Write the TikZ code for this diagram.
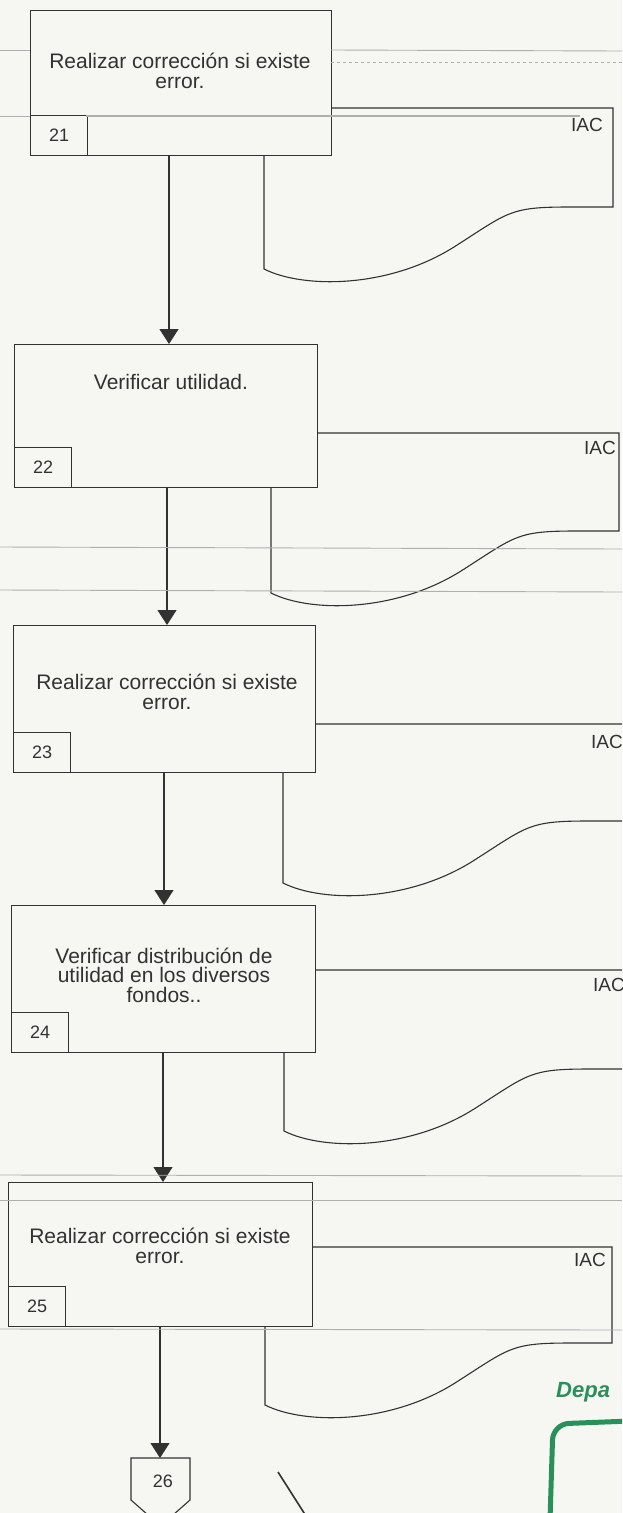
\documentclass[tikz,border=0pt]{standalone}
\usepackage{fontspec}
\setmainfont{Liberation Sans}
\usetikzlibrary{arrows.meta}
\definecolor{paper}{RGB}{246,246,242}
\definecolor{ink}{RGB}{50,50,50}
\definecolor{scan}{RGB}{175,175,175}
\definecolor{stamp}{RGB}{40,145,90}
\newcommand\docshape[4]{%
  \draw[docline] (#1,#2) -- (#3,#2) -- (#3,#4) -- ({#1+305},#4)
    .. controls ({#1+245},#4) and ({#1+245},{#4+5}) .. ({#1+190},{#4+40})
    .. controls ({#1+125},{#4+81}) and ({#1+40},{#4+82}) .. (#1,{#4+62}) -- cycle;}
\begin{document}
\begin{tikzpicture}[x=1pt,y=-1pt,
  procbox/.style={draw=ink, line width=1.1pt, fill=paper, inner sep=0pt, anchor=north west,
    minimum width=302pt, minimum height=145pt},
  tabbox/.style={draw=ink, line width=1.1pt, fill=paper, inner sep=0pt, anchor=south west,
    minimum width=57pt, minimum height=40pt, text=ink, font=\fontsize{18}{18}\selectfont},
  boxtext/.style={align=center, text=ink, inner sep=0pt, font=\fontsize{21}{19.5}\selectfont},
  iac/.style={text=ink, inner sep=0pt, font=\fontsize{19}{19}\selectfont},
  docline/.style={draw=ink, line width=1.1pt},
  arr/.style={draw=ink, line width=1.2pt, -{Triangle[length=15pt,width=19pt]}},
  scanline/.style={draw=scan, line width=0.9pt}]
\useasboundingbox (0,0) rectangle (622,1513);
\clip (0,0) rectangle (622,1513);
\fill[paper] (0,0) rectangle (622,1513);

% document shapes (behind the process boxes)
\docshape{264}{108}{613}{207}
\docshape{271}{433}{619}{531}
\docshape{283}{724}{631}{821}
\docshape{284}{970}{632}{1069}
\docshape{265}{1247}{612}{1343}

% process boxes
\node[procbox, minimum width=301pt, minimum height=145pt] (b21) at (30,10) {};
\node[procbox, minimum width=303pt, minimum height=143pt] (b22) at (14,344) {};
\node[procbox, minimum width=302pt, minimum height=147pt] (b23) at (13,625) {};
\node[procbox, minimum width=304pt, minimum height=147pt] (b24) at (11,905) {};
\node[procbox, minimum width=304pt, minimum height=144pt] (b25) at (8,1182) {};

\node[tabbox] (n21) at (b21.south west) {21};
\node[tabbox] (n22) at (b22.south west) {22};
\node[tabbox] (n23) at (b23.south west) {23};
\node[tabbox] (n24) at (b24.south west) {24};
\node[tabbox] (n25) at (b25.south west) {25};

\node[boxtext] (t21) at (180,71) {Realizar corrección si existe\\error.};
\node[boxtext] (t22) at (171,382) {Verificar utilidad.};
\node[boxtext] (t23) at (167,692) {Realizar corrección si existe\\error.};
\node[boxtext] (t24) at (164,975) {Verificar distribución de\\utilidad en los diversos\\fondos..};
\node[boxtext] (t25) at (160,1246) {Realizar corrección si existe\\error.};

\node[iac] (i21) at (587,125) {IAC};
\node[iac] (i22) at (600,448) {IAC};
\node[iac] (i23) at (607,742) {IAC};
\node[iac] (i24) at (609,985) {IAC};
\node[iac] (i25) at (590,1260) {IAC};

% off-page connector
\coordinate (c26top) at (160,1458);
\draw[draw=ink, line width=1.1pt, fill=paper] (131,1458) -- (190,1458) -- (190,1500) -- (160.5,1526) -- (131,1500) -- cycle;
\node[text=ink, inner sep=0pt, font=\fontsize{18}{18}\selectfont] (c26) at (163,1481) {26};

% connectors
\coordinate (a1) at (169,0);
\coordinate (a2) at (167,0);
\coordinate (a3) at (164,0);
\coordinate (a4) at (163,0);
\draw[arr] (b21.south -| a1) -- (b22.north -| a1);
\draw[arr] (b22.south -| a2) -- (b23.north -| a2);
\draw[arr] (b23.south -| a3) -- (b24.north -| a3);
\draw[arr] (b24.south -| a4) -- (b25.north -| a4);
\draw[arr] (b25.south -| c26top) -- (c26top);

% stray pen stroke and stamp
\draw[ink, line width=1.6pt] (278,1472) -- (306,1516);
\node[text=stamp, inner sep=0pt, anchor=west, font=\fontsize{22}{22}\selectfont\bfseries\itshape] (stamptxt) at (556,1392) {Depa};
\draw[stamp, line width=5pt, rounded corners=16pt] (550,1520) -- (553,1424) -- (630,1421);

% scan artefacts
\draw[scanline] (0,50) -- (30,50);
\draw[scanline] (331,50) -- (622,51);
\draw[scanline, dashed] (331,62) -- (622,62);
\draw[scanline, line width=1.8pt] (86,116) -- (580,116);
\draw[scanline] (0,116) -- (30,116);
\draw[scanline] (0,547) -- (622,549);
\draw[scanline] (0,590) -- (622,592);
\draw[scanline] (0,1175) -- (622,1176);
\draw[scanline] (0,1200) -- (622,1200);
\draw[scanline] (0,1329) -- (622,1330);
\end{tikzpicture}
\end{document}
